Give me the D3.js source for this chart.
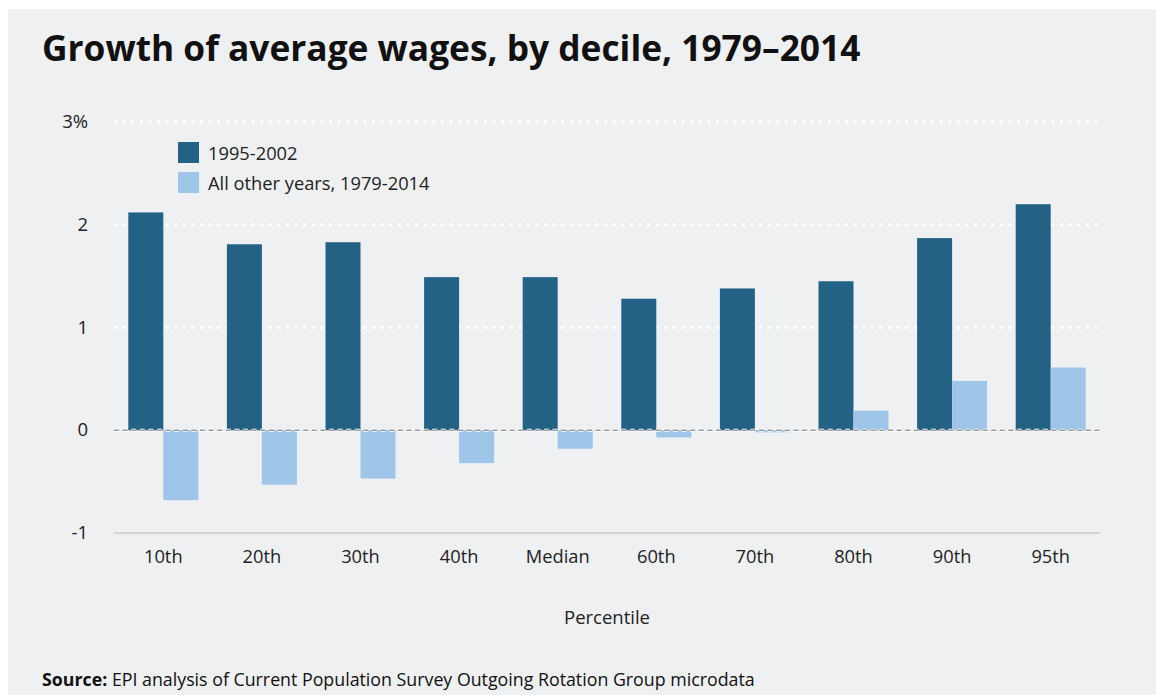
<!DOCTYPE html>
<html>
<head>
<meta charset="utf-8">
<script src="https://d3js.org/d3.v7.min.js"></script>
<style>
  body { margin: 0; background: #fff; }
  svg { display: block; font-family: "Open Sans", "Noto Sans", sans-serif; }
</style>
</head>
<body>
<svg id="chart" width="1156" height="695"></svg>
<script>
// data
var categories = ["10th", "20th", "30th", "40th", "Median", "60th", "70th", "80th", "90th", "95th"];
var boom = [2.12, 1.81, 1.83, 1.49, 1.49, 1.28, 1.38, 1.45, 1.87, 2.20];
var otherYears = [-0.68, -0.53, -0.47, -0.32, -0.18, -0.07, -0.02, 0.19, 0.48, 0.61];
var seriesNames = ["1995-2002", "All other years, 1979-2014"];
var yTicks = [-1, 0, 1, 2, 3];

var colors = ["#246285", "#9fc5e8"];

var svg = d3.select("#chart");

svg.append("rect")
    .attr("x", 8).attr("y", 9)
    .attr("width", 1148).attr("height", 686)
    .attr("fill", "#eff0f2");

svg.append("text")
    .attr("x", 42).attr("y", 61)
    .attr("font-size", 35.3)
    .attr("font-weight", "bold")
    .attr("fill", "#111")
    .text("Growth of average wages, by decile, 1979\u20132014");

var margin = {left: 114, right: 1100, top: 122, bottom: 533};

var x = d3.scaleBand()
    .domain(categories)
    .range([margin.left, margin.right])
    .paddingInner(0.29)
    .paddingOuter(0.145);

var y = d3.scaleLinear()
    .domain([-1, 3])
    .range([margin.bottom, margin.top]);

// grid
var grid = svg.append("g");
yTicks.forEach(function(t) {
  if (t > 0) {
    grid.append("line")
        .attr("x1", margin.left).attr("x2", margin.right)
        .attr("y1", y(t)).attr("y2", y(t))
        .attr("stroke", "#fff").attr("stroke-width", 3)
        .attr("stroke-dasharray", "3,5.6");
  }
});
grid.append("line")
    .attr("x1", margin.left).attr("x2", margin.right)
    .attr("y1", y(-1)).attr("y2", y(-1))
    .attr("stroke", "#bbb").attr("stroke-width", 1);

// y labels
svg.append("g").selectAll("text")
  .data(yTicks)
  .join("text")
    .attr("x", 88)
    .attr("y", function(d) { return y(d) + 6; })
    .attr("text-anchor", "end")
    .attr("font-size", 18.5)
    .attr("fill", "#222")
    .text(function(d) { return d == 3 ? "3%" : d; });

var sub = d3.scaleBand()
    .domain([0, 1])
    .range([0, x.bandwidth()]);

var bars = svg.append("g");
categories.forEach(function(c, i) {
  [boom[i], otherYears[i]].forEach(function(v, k) {
    bars.append("rect")
        .attr("x", x(c) + sub(k))
        .attr("width", sub.bandwidth())
        .attr("y", y(Math.max(0, v)))
        .attr("height", Math.abs(y(v) - y(0)))
        .attr("fill", colors[k]);
  });
});

// zero line
svg.append("line")
    .attr("x1", margin.left).attr("x2", margin.right)
    .attr("y1", y(0)).attr("y2", y(0))
    .attr("stroke", "#fff").attr("stroke-width", 3)
    .attr("stroke-dasharray", "5,3.6");
svg.append("line")
    .attr("x1", margin.left).attr("x2", margin.right)
    .attr("y1", y(0)).attr("y2", y(0))
    .attr("stroke", "#999").attr("stroke-width", 1.5)
    .attr("stroke-dasharray", "5,3.6");

// x labels
svg.append("g").selectAll("text")
  .data(categories)
  .join("text")
    .attr("x", function(d) { return x(d) + x.bandwidth() / 2; })
    .attr("y", 563)
    .attr("text-anchor", "middle")
    .attr("font-size", 18.3)
    .attr("fill", "#222")
    .text(function(d) { return d; });

svg.append("text")
    .attr("x", 607).attr("y", 624)
    .attr("text-anchor", "middle")
    .attr("font-size", 18.5)
    .attr("fill", "#222")
    .text("Percentile");

// legend
var legend = svg.append("g");
seriesNames.forEach(function(n, i) {
  legend.append("rect")
      .attr("x", 178).attr("y", 142 + i * 30)
      .attr("width", 21).attr("height", 21)
      .attr("fill", colors[i]);
  legend.append("text")
      .attr("x", 208).attr("y", 160 + i * 30)
      .attr("font-size", 18.3)
      .attr("fill", "#222")
      .text(n);
});

// source
var src = svg.append("text")
    .attr("x", 42).attr("y", 686)
    .attr("font-size", 17.8)
    .attr("fill", "#111");
src.append("tspan").attr("font-weight", "bold").text("Source:");
src.append("tspan").text(" EPI analysis of Current Population Survey Outgoing Rotation Group microdata");
</script>
</body>
</html>
